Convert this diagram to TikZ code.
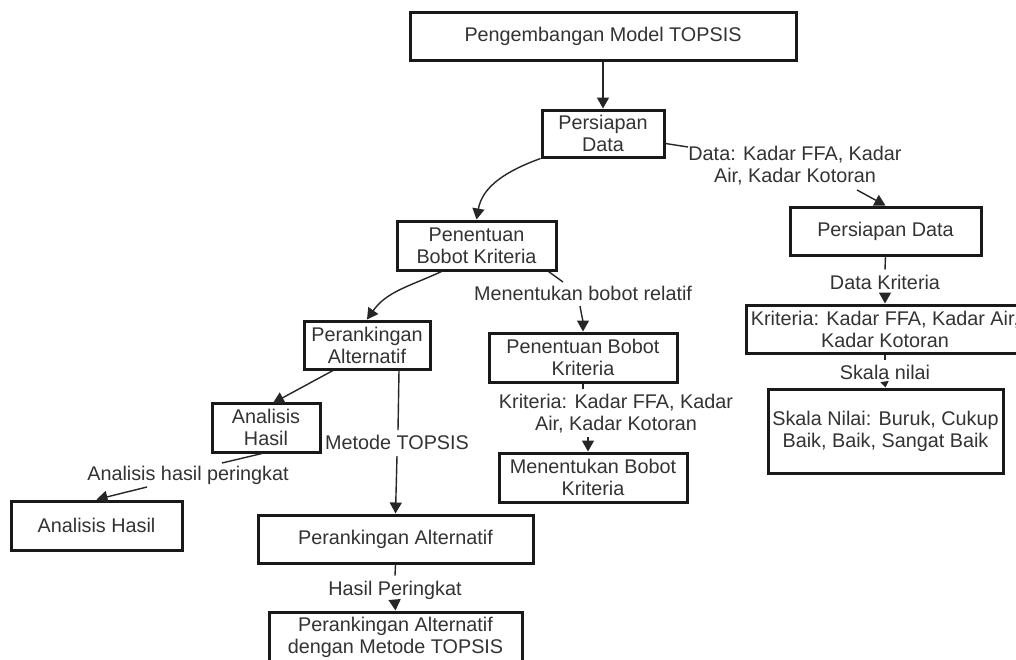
\documentclass[tikz,border=0pt]{standalone}
\usepackage{fontspec}
\setmainfont{Liberation Sans}
\usetikzlibrary{arrows.meta,calc}
\begin{document}
\begin{tikzpicture}[x=1pt,y=-1pt,
  font=\fontsize{19.8}{22}\selectfont, text=black!80,
  box/.style={rectangle, draw=black!90, line width=3pt, fill=white, align=center, inner sep=0pt},
  lbl/.style={align=center, inner xsep=2pt, inner ysep=5pt},
  conn/.style={line width=1.4pt, draw=black!85},
  arr/.style={conn, -{Triangle[length=11pt,width=12pt]}},
  sarr/.style={conn, -{Triangle[length=6pt,width=8pt]}}]
\fill[white] (0,0) rectangle (1016,659);
\useasboundingbox (0,0) rectangle (1016,659);
\clip (0,0) rectangle (1016,659);

% boxes
\node[box, minimum width=386pt, minimum height=48pt] (top) at (603,36) {Pengembangan Model TOPSIS};
\node[box, minimum width=122pt, minimum height=47pt] (pd1) at (603,133.5) {Persiapan\\Data};
\node[box, minimum width=191pt, minimum height=48pt] (pd2) at (885.5,231) {Persiapan Data};
\node[box, minimum width=278pt, minimum height=48pt] (krit) at (885,329) {Kriteria: Kadar FFA, Kadar Air,\\Kadar Kotoran};
\node[box, minimum width=235pt, minimum height=84pt] (skala) at (885.5,431) {Skala Nilai: Buruk, Cukup\\Baik, Baik, Sangat Baik};
\node[box, minimum width=159pt, minimum height=49pt] (pbk1) at (476.5,245.5) {Penentuan\\Bobot Kriteria};
\node[box, minimum width=188pt, minimum height=49pt] (pbk2) at (583,357.5) {Penentuan Bobot\\Kriteria};
\node[box, minimum width=188pt, minimum height=49pt] (mbk) at (593,477.5) {Menentukan Bobot\\Kriteria};
\node[box, minimum width=126pt, minimum height=48pt] (pa1) at (367,345) {Perankingan\\Alternatif};
\node[box, minimum width=108pt, minimum height=49pt] (ah1) at (266,427.5) {Analisis\\Hasil};
\node[box, minimum width=171pt, minimum height=49pt] (ah2) at (96.5,525.5) {Analisis Hasil};
\node[box, minimum width=275pt, minimum height=48pt] (pa2) at (395.5,539) {Perankingan Alternatif};
\node[box, minimum width=253pt, minimum height=50pt] (fin) at (395.5,637) {Perankingan Alternatif\\dengan Metode TOPSIS};

% edge labels
\node[lbl] (l1) at (795,166) {Data: Kadar FFA, Kadar\\Air, Kadar Kotoran};
\node[lbl] (l2) at (583,293) {Menentukan bobot relatif};
\node[lbl] (l3) at (616,414) {Kriteria: Kadar FFA, Kadar\\Air, Kadar Kotoran};
\node[lbl] (l4) at (885,282) {Data Kriteria};
\node[lbl] (l5) at (885,372) {Skala nilai};
\node[lbl] (l6) at (397,442) {Metode TOPSIS};
\node[lbl] (l7) at (188,475) {Analisis hasil peringkat};
\node[lbl] (l8) at (395,590) {Hasil Peringkat};

% free ends of connectors at the labels
\coordinate (l1a) at (688,147);
\coordinate (l1b) at (857,190);
\coordinate (l2a) at (563,282);
\coordinate (l2b) at (580,306);
\coordinate (l3a) at (583,389);
\coordinate (l3b) at (588,437);
\coordinate (l6a) at (398,430);
\coordinate (l6b) at (397,456);
\coordinate (l7a) at (222,463);
\coordinate (l7b) at (147,487);
\coordinate (ah1t) at (273,403);

% connectors
\draw[arr] (top.south) -- (pd1.north);
\draw[conn] ([yshift=-10pt]pd1.east) -- (l1a);
\draw[arr] (l1b) -- (pd2.north);
\draw[arr] (pd1.south west) to[out=200,in=80] (pbk1.north);
\draw[conn] (pd2.south) -- (l4.north);
\draw[arr] (l4.south) -- (krit.north);
\draw[conn] (krit.south) -- (l5.north);
\draw[sarr] (l5.south) -- (skala.north);
\draw[arr] ([xshift=-35pt]pbk1.south) to[out=205,in=55] (pa1.north);
\draw[conn] ([xshift=-9pt]pbk1.south east) -- (l2a);
\draw[arr] (l2b) to[out=-80,in=90] (pbk2.north);
\draw[conn] (pbk2.south) -- (l3a);
\draw[arr] (l3b) -- ([xshift=-5pt]mbk.north);
\draw[arr] ([xshift=-34pt]pa1.south) -- (ah1t);
\draw[conn] ([xshift=32pt]pa1.south) -- (l6a);
\draw[arr] (l6b) -- (pa2.north);
\draw[conn] ([xshift=-4pt]ah1.south) -- (l7a);
\draw[arr] (l7b) -- (ah2.north);
\draw[conn] (pa2.south) -- (l8.north);
\draw[arr] (l8.south) -- (fin.north);
\end{tikzpicture}
\end{document}
